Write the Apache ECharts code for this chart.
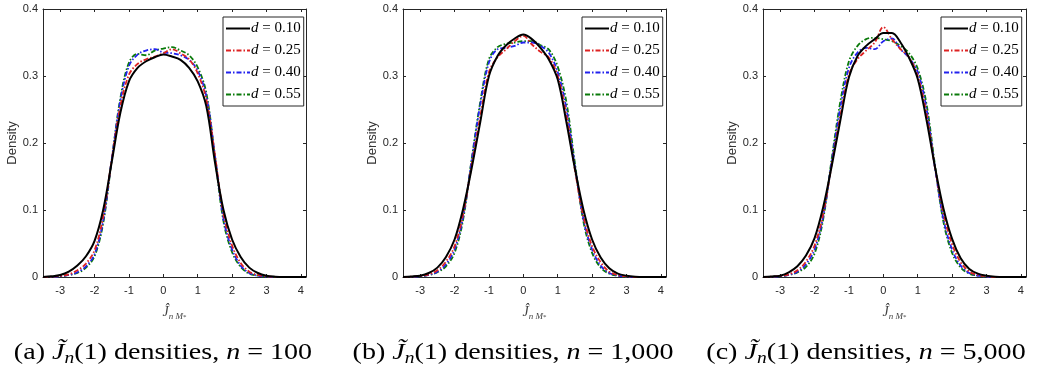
<!DOCTYPE html>
<html>
<head>
<meta charset="utf-8">
<script src="https://cdn.jsdelivr.net/npm/echarts@6/dist/echarts.min.js"></script>
<style>
html, body { margin: 0; padding: 0; background: #fff; }
#box { width: 1049px; height: 369px; }
</style>
</head>
<body>
<div id="box"></div>
<script>
// grid of x values the densities were read at
var xs = [-3.5, -3.25, -3, -2.75, -2.5, -2.25, -2, -1.75, -1.5, -1.25, -1, -0.75, -0.5, -0.25, 0,
    0.25, 0.5, 0.75, 1, 1.25, 1.5, 1.75, 2, 2.25, 2.5, 2.75, 3, 3.25, 3.5, 3.75, 4, 4.15]
var xTicks = [-3, -2, -1, 0, 1, 2, 3, 4]
var names = ['d = 0.10', 'd = 0.25', 'd = 0.40', 'd = 0.55']

// (a) n = 100
var a_d10 = [0, 0.001, 0.003, 0.008, 0.017, 0.031, 0.054, 0.1, 0.172, 0.245, 0.292, 0.312, 0.322, 0.328, 0.332,
    0.329, 0.324, 0.312, 0.292, 0.255, 0.172, 0.1, 0.056, 0.03, 0.014, 0.006, 0.002, 0.0005, 0, 0, 0, 0]
var a_d25 = [0, 0.0005, 0.0015, 0.004, 0.01, 0.02, 0.04, 0.09, 0.175, 0.255, 0.302, 0.318, 0.325, 0.329, 0.334,
    0.34, 0.334, 0.325, 0.304, 0.265, 0.182, 0.094, 0.047, 0.021, 0.008, 0.003, 0.001, 0, 0, 0, 0, 0]
var a_d40 = [0, 0.0003, 0.001, 0.003, 0.007, 0.016, 0.034, 0.084, 0.176, 0.263, 0.315, 0.332, 0.338, 0.34, 0.335,
    0.334, 0.331, 0.324, 0.308, 0.27, 0.182, 0.087, 0.041, 0.017, 0.006, 0.002, 0.0005, 0, 0, 0, 0, 0]
var a_d55 = [0, 0.0003, 0.001, 0.003, 0.006, 0.014, 0.031, 0.08, 0.175, 0.267, 0.32, 0.333, 0.331, 0.338, 0.341,
    0.343, 0.338, 0.331, 0.313, 0.275, 0.18, 0.083, 0.037, 0.015, 0.005, 0.002, 0.0005, 0, 0, 0, 0, 0]

// (b) n = 1,000
var b_d10 = [0, 0.0008, 0.002, 0.006, 0.014, 0.03, 0.056, 0.102, 0.163, 0.232, 0.3, 0.33, 0.346, 0.356, 0.362,
    0.355, 0.342, 0.324, 0.295, 0.232, 0.162, 0.1, 0.056, 0.029, 0.013, 0.005, 0.002, 0.0005, 0, 0, 0, 0]
var b_d25 = [0, 0.0005, 0.0015, 0.004, 0.01, 0.023, 0.046, 0.094, 0.168, 0.24, 0.306, 0.328, 0.34, 0.352, 0.36,
    0.347, 0.336, 0.327, 0.3, 0.242, 0.16, 0.09, 0.046, 0.022, 0.008, 0.003, 0.001, 0, 0, 0, 0, 0]
var b_d40 = [0, 0.0003, 0.001, 0.003, 0.008, 0.019, 0.041, 0.09, 0.175, 0.258, 0.32, 0.34, 0.342, 0.345, 0.35,
    0.35, 0.345, 0.334, 0.306, 0.252, 0.166, 0.086, 0.041, 0.017, 0.006, 0.002, 0.0005, 0, 0, 0, 0, 0]
var b_d55 = [0, 0.0003, 0.001, 0.003, 0.007, 0.016, 0.036, 0.086, 0.177, 0.262, 0.325, 0.343, 0.348, 0.35, 0.352,
    0.352, 0.346, 0.339, 0.314, 0.262, 0.17, 0.082, 0.036, 0.014, 0.005, 0.002, 0.0005, 0, 0, 0, 0, 0]

// (c) n = 5,000
var c_d10 = [0, 0.0008, 0.002, 0.007, 0.016, 0.032, 0.058, 0.104, 0.166, 0.234, 0.298, 0.33, 0.345, 0.355, 0.364,
    0.364, 0.35, 0.327, 0.296, 0.236, 0.165, 0.102, 0.057, 0.028, 0.012, 0.005, 0.002, 0.0005, 0, 0, 0, 0]
var c_d25 = [0, 0.0005, 0.0015, 0.004, 0.01, 0.023, 0.047, 0.094, 0.168, 0.24, 0.302, 0.325, 0.338, 0.35, 0.373,
    0.355, 0.34, 0.328, 0.3, 0.245, 0.164, 0.095, 0.049, 0.022, 0.008, 0.003, 0.001, 0, 0, 0, 0, 0]
var c_d40 = [0, 0.0003, 0.001, 0.003, 0.008, 0.019, 0.041, 0.09, 0.173, 0.253, 0.312, 0.335, 0.342, 0.34, 0.352,
    0.356, 0.34, 0.327, 0.306, 0.253, 0.164, 0.086, 0.041, 0.017, 0.006, 0.002, 0.0005, 0, 0, 0, 0, 0]
var c_d55 = [0, 0.0003, 0.001, 0.003, 0.007, 0.015, 0.035, 0.086, 0.177, 0.262, 0.322, 0.345, 0.355, 0.357, 0.355,
    0.352, 0.345, 0.334, 0.311, 0.26, 0.168, 0.082, 0.036, 0.014, 0.005, 0.002, 0.0005, 0, 0, 0, 0, 0]

var panels = [
    { tag: '(a)', n: '100', lines: [a_d10, a_d25, a_d40, a_d55] },
    { tag: '(b)', n: '1,000', lines: [b_d10, b_d25, b_d40, b_d55] },
    { tag: '(c)', n: '5,000', lines: [c_d10, c_d25, c_d40, c_d55] }
]

var colors = ['#000000', '#dd2222', '#2222ee', '#0a7a0a']
var dashes = ['solid', [5, 2, 1.5, 2], [5, 2, 1.5, 2], [5, 2, 1.5, 2]]
var widths = [2, 1.8, 1.8, 1.8]

var gridLeft = [43, 403, 763]
var legendLeft = [223, 582, 941]
var captionX = [163, 513, 866]
var axisColor = '#262626'
var sans = 'Liberation Sans'
var serif = 'Liberation Serif'

var chart = echarts.init(document.getElementById('box'))

var grids = [], xAxes = [], yAxes = [], series = [], legends = [], graphics = []

panels.forEach(function (p, i) {
    grids.push({ left: gridLeft[i], top: 9, width: 263, height: 268 })

    xAxes.push({
        type: 'value', gridIndex: i, position: 'bottom', min: -3.5, max: 4.15,
        axisLine: { onZero: false, lineStyle: { color: axisColor, width: 1 } },
        axisTick: { inside: true, length: 3, customValues: xTicks, lineStyle: { color: axisColor } },
        axisLabel: { customValues: xTicks, margin: 8, color: axisColor, fontSize: 11, fontFamily: sans },
        splitLine: { show: false },
        name: '{j|\u0134}{s|n M}{t|*}', nameLocation: 'middle', nameGap: 26,
        nameTextStyle: {
            color: '#444',
            rich: {
                j: { fontSize: 14, fontStyle: 'italic', fontFamily: serif, color: '#444', lineHeight: 18 },
                s: { fontSize: 9, fontStyle: 'italic', fontFamily: serif, color: '#444', verticalAlign: 'bottom', lineHeight: 10 },
                t: { fontSize: 7, fontFamily: serif, color: '#444', verticalAlign: 'bottom', lineHeight: 16 }
            }
        }
    })
    xAxes.push({
        type: 'value', gridIndex: i, position: 'top', min: -3.5, max: 4.15,
        axisLine: { onZero: false, lineStyle: { color: axisColor, width: 1 } },
        axisTick: { inside: true, length: 3, customValues: xTicks, lineStyle: { color: axisColor } },
        axisLabel: { show: false },
        splitLine: { show: false }
    })

    yAxes.push({
        type: 'value', gridIndex: i, position: 'left', min: 0, max: 0.4, interval: 0.1,
        axisLine: { show: true, onZero: false, lineStyle: { color: axisColor, width: 1 } },
        axisTick: { show: true, inside: true, length: 3, lineStyle: { color: axisColor } },
        axisLabel: { margin: 5, color: axisColor, fontSize: 11, fontFamily: sans },
        splitLine: { show: false },
        name: 'Density', nameLocation: 'middle', nameGap: 23,
        nameTextStyle: { color: '#333', fontSize: 13, fontFamily: sans }
    })
    yAxes.push({
        type: 'value', gridIndex: i, position: 'right', min: 0, max: 0.4, interval: 0.1,
        axisLine: { show: true, onZero: false, lineStyle: { color: axisColor, width: 1 } },
        axisTick: { show: true, inside: true, length: 3, lineStyle: { color: axisColor } },
        axisLabel: { show: false },
        splitLine: { show: false }
    })

    p.lines.forEach(function (ys, k) {
        series.push({
            name: names[k],
            type: 'line',
            xAxisIndex: 2 * i,
            yAxisIndex: 2 * i,
            data: xs.map(function (x, j) { return [x, ys[j]] }),
            symbol: 'none',
            smooth: 0.35,
            z: 10 - k,
            color: colors[k],
            lineStyle: { color: colors[k], width: widths[k], type: dashes[k] }
        })
    })

    legends.push({
        data: names,
        orient: 'vertical',
        left: legendLeft[i],
        top: 17,
        itemWidth: 24,
        itemHeight: 14,
        itemGap: 7,
        padding: [4, 3, 4, 2],
        backgroundColor: '#fff',
        borderColor: axisColor,
        borderWidth: 1,
        borderRadius: 0,
        selectedMode: false,
        itemStyle: { opacity: 0 },
        formatter: function (name) {
            return '{i|d}{t| = ' + name.split('= ')[1] + '}'
        },
        textStyle: {
            padding: [0, 0, 0, -4],
            rich: {
                i: { fontSize: 15, fontStyle: 'italic', fontFamily: serif, color: '#000' },
                t: { fontSize: 15, fontFamily: serif, color: '#000' }
            }
        }
    })

    graphics.push({
        type: 'text',
        x: captionX[i],
        y: 353,
        scaleX: 1.22,
        style: {
            text: p.tag + ' {J|J\u0303}{s|n}(1) densities, {it|n} = ' + p.n,
            font: '23px ' + serif,
            fill: '#000',
            textAlign: 'center',
            textVerticalAlign: 'middle',
            lineHeight: 28,
            rich: {
                J: { fontSize: 23, fontStyle: 'italic', fontFamily: serif, lineHeight: 28 },
                s: { fontSize: 16, fontStyle: 'italic', fontFamily: serif, verticalAlign: 'bottom', lineHeight: 16 },
                it: { fontSize: 23, fontStyle: 'italic', fontFamily: serif, lineHeight: 28 }
            }
        }
    })
})

chart.setOption({
    animation: false,
    backgroundColor: '#fff',
    grid: grids,
    xAxis: xAxes,
    yAxis: yAxes,
    legend: legends,
    series: series,
    graphic: graphics
})
</script>
</body>
</html>
